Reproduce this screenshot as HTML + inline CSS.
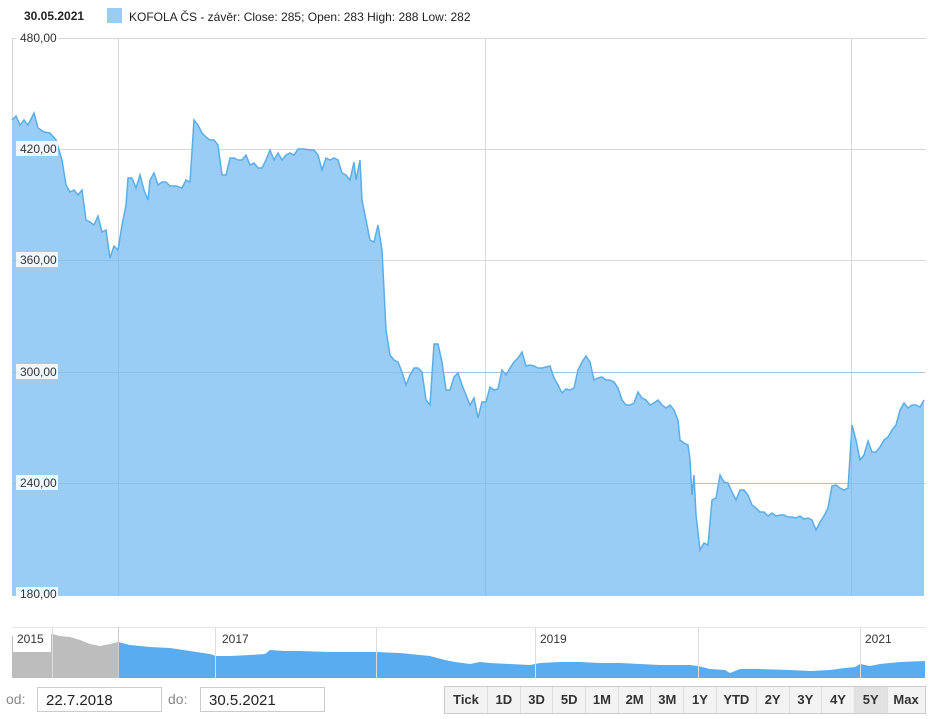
<!DOCTYPE html>
<html><head><meta charset="utf-8"><style>
body{margin:0;width:941px;height:719px;background:#fff;font-family:"Liberation Sans",sans-serif;position:relative;overflow:hidden}
.t{position:absolute;font-size:12px;color:#222}
.inp{position:absolute;top:687px;height:25px;border:1px solid #ccc;font-size:15px;line-height:25px;padding-left:8px;box-sizing:border-box;color:#222}
.btns{position:absolute;left:444px;top:686px;height:28px;display:flex;border:1px solid #ccc;box-sizing:border-box;background:#f3f3f3}
.btns div{font-size:13px;font-weight:bold;color:#333;text-align:center;line-height:26px;border-left:1px solid #ddd;width:31.7px}
</style></head><body>
<div class="t" style="left:24px;top:9px;font-weight:bold">30.05.2021</div>
<div style="position:absolute;left:107px;top:8px;width:15px;height:15px;background:#99cdf5"></div>
<div class="t" style="left:129px;top:10px">KOFOLA ČS - závěr: Close: 285; Open: 283 High: 288 Low: 282</div>
<svg width="941" height="719" style="position:absolute;left:0;top:0">
<defs>
<path id="s" d="M12,120 L16,116 L20,125 L24,120 L28,125 L34,113 L38,128 L44,132 L50,133 L56,140 L62,160 L66,185 L70,192 L74,190 L78,195 L82,190 L86,220 L90,222 L94,225 L98,216 L102,232 L106,230 L110,258 L114,246 L118,250 L122,225 L126,205 L128,178 L132,178 L136,188 L140,175 L144,190 L148,200 L150,180 L154,173 L158,185 L162,182 L166,182 L170,186 L176,186 L182,188 L186,180 L190,182 L194,120 L198,125 L202,133 L206,137 L210,140 L214,140 L218,145 L222,175 L226,175 L230,158 L234,158 L238,160 L242,160 L246,155 L250,165 L254,163 L258,168 L262,168 L266,160 L270,150 L274,160 L278,153 L282,160 L286,155 L290,153 L294,155 L298,149 L304,149 L310,150 L314,150 L318,155 L322,170 L326,158 L330,160 L334,158 L338,160 L342,173 L346,175 L350,180 L354,162 L356,180 L360,160 L362,200 L366,220 L370,240 L374,242 L378,225 L382,250 L386,330 L390,355 L394,360 L398,362 L402,372 L406,385 L410,375 L414,368 L418,368 L422,372 L426,400 L430,405 L434,344 L438,344 L442,362 L446,390 L450,390 L454,377 L458,373 L462,385 L466,395 L470,405 L474,398 L478,418 L482,402 L486,402 L490,387 L494,390 L498,389 L502,370 L506,375 L510,368 L514,362 L518,358 L522,352 L526,366 L530,365 L534,366 L538,368 L542,368 L546,367 L550,366 L554,378 L558,385 L562,393 L566,389 L570,390 L574,388 L578,370 L582,362 L586,356 L590,362 L594,380 L598,378 L602,377 L606,380 L610,380 L614,382 L618,388 L622,400 L626,405 L630,405 L634,403 L638,392 L642,398 L646,400 L650,405 L654,403 L658,400 L662,405 L666,408 L670,405 L674,410 L678,420 L680,440 L684,443 L688,445 L690,460 L692,495 L694,475 L696,515 L700,550 L704,543 L708,545 L712,500 L716,498 L720,475 L724,482 L728,483 L732,492 L736,500 L740,490 L744,490 L748,495 L752,505 L756,508 L760,512 L764,512 L768,516 L772,513 L776,516 L780,515 L784,515 L788,517 L792,517 L796,518 L800,516 L804,519 L808,518 L812,520 L816,530 L820,522 L824,516 L828,508 L832,486 L836,485 L840,488 L844,490 L848,488 L852,425 L856,440 L860,460 L864,455 L868,441 L872,452 L876,452 L880,447 L884,440 L888,437 L892,430 L896,425 L900,410 L904,403 L908,408 L912,405 L916,405 L920,407 L924,400"/>
<path id="nav" d="M12,636 L52,634 L60,636 L70,637 L80,640 L90,644 L100,646 L110,644 L118,642 L130,645 L150,647 L170,648 L190,651 L210,654 L216,656 L230,656 L250,655 L265,654 L270,650 L285,651 L300,651 L330,652 L360,652 L376,652 L400,653 L430,656 L445,660 L455,662 L470,664 L480,662 L490,663 L510,664 L530,665 L540,663 L560,662 L580,662 L600,663 L620,663 L640,664 L660,665 L690,665 L698,666 L710,669 L725,670 L730,673 L740,669 L760,669 L790,670 L810,671 L830,670 L845,668 L855,667 L860,664 L870,666 L880,664 L900,662 L925,661 L925,678 L12,678 Z"/>
<clipPath id="cl"><rect x="12" y="620" width="107" height="60"/></clipPath>
<clipPath id="cr"><rect x="119" y="620" width="810" height="60"/></clipPath>
</defs>
<g stroke="#d8d8d8" stroke-width="1">
<line x1="12" y1="38.5" x2="926" y2="38.5"/><line x1="12" y1="149.5" x2="926" y2="149.5"/><line x1="12" y1="260.5" x2="926" y2="260.5"/><line x1="12" y1="372.5" x2="926" y2="372.5"/><line x1="12" y1="483.5" x2="926" y2="483.5"/>
<line x1="118.5" y1="38" x2="118.5" y2="596"/><line x1="485.5" y1="38" x2="485.5" y2="596"/><line x1="851.5" y1="38" x2="851.5" y2="596"/>
<line x1="12.5" y1="38" x2="12.5" y2="596"/>
</g>
<path d="M12,120 L16,116 L20,125 L24,120 L28,125 L34,113 L38,128 L44,132 L50,133 L56,140 L62,160 L66,185 L70,192 L74,190 L78,195 L82,190 L86,220 L90,222 L94,225 L98,216 L102,232 L106,230 L110,258 L114,246 L118,250 L122,225 L126,205 L128,178 L132,178 L136,188 L140,175 L144,190 L148,200 L150,180 L154,173 L158,185 L162,182 L166,182 L170,186 L176,186 L182,188 L186,180 L190,182 L194,120 L198,125 L202,133 L206,137 L210,140 L214,140 L218,145 L222,175 L226,175 L230,158 L234,158 L238,160 L242,160 L246,155 L250,165 L254,163 L258,168 L262,168 L266,160 L270,150 L274,160 L278,153 L282,160 L286,155 L290,153 L294,155 L298,149 L304,149 L310,150 L314,150 L318,155 L322,170 L326,158 L330,160 L334,158 L338,160 L342,173 L346,175 L350,180 L354,162 L356,180 L360,160 L362,200 L366,220 L370,240 L374,242 L378,225 L382,250 L386,330 L390,355 L394,360 L398,362 L402,372 L406,385 L410,375 L414,368 L418,368 L422,372 L426,400 L430,405 L434,344 L438,344 L442,362 L446,390 L450,390 L454,377 L458,373 L462,385 L466,395 L470,405 L474,398 L478,418 L482,402 L486,402 L490,387 L494,390 L498,389 L502,370 L506,375 L510,368 L514,362 L518,358 L522,352 L526,366 L530,365 L534,366 L538,368 L542,368 L546,367 L550,366 L554,378 L558,385 L562,393 L566,389 L570,390 L574,388 L578,370 L582,362 L586,356 L590,362 L594,380 L598,378 L602,377 L606,380 L610,380 L614,382 L618,388 L622,400 L626,405 L630,405 L634,403 L638,392 L642,398 L646,400 L650,405 L654,403 L658,400 L662,405 L666,408 L670,405 L674,410 L678,420 L680,440 L684,443 L688,445 L690,460 L692,495 L694,475 L696,515 L700,550 L704,543 L708,545 L712,500 L716,498 L720,475 L724,482 L728,483 L732,492 L736,500 L740,490 L744,490 L748,495 L752,505 L756,508 L760,512 L764,512 L768,516 L772,513 L776,516 L780,515 L784,515 L788,517 L792,517 L796,518 L800,516 L804,519 L808,518 L812,520 L816,530 L820,522 L824,516 L828,508 L832,486 L836,485 L840,488 L844,490 L848,488 L852,425 L856,440 L860,460 L864,455 L868,441 L872,452 L876,452 L880,447 L884,440 L888,437 L892,430 L896,425 L900,410 L904,403 L908,408 L912,405 L916,405 L920,407 L924,400 L924,596 L12,596 Z" fill="#99cdf5"/>
<use href="#s" fill="none" stroke="#5aaee8" stroke-width="1.5"/>
<g stroke="#80b8e0" stroke-width="1" opacity="0.6">
<line x1="118.5" y1="250" x2="118.5" y2="596"/><line x1="485.5" y1="402" x2="485.5" y2="596"/><line x1="851.5" y1="430" x2="851.5" y2="596"/>
<line x1="12" y1="483.5" x2="924" y2="483.5"/><line x1="12" y1="372.5" x2="924" y2="372.5"/><line x1="12" y1="260.5" x2="380" y2="260.5"/>
</g>
<g font-size="12" fill="#333" font-family="Liberation Sans,sans-serif">
<rect x="16" y="30" width="42" height="15" fill="#fff" opacity="0.85"/><text x="20" y="42">480,00</text>
<rect x="16" y="141" width="42" height="15" fill="#fff" opacity="0.85"/><text x="20" y="153">420,00</text>
<rect x="16" y="252" width="42" height="15" fill="#fff" opacity="0.85"/><text x="20" y="264">360,00</text>
<rect x="16" y="364" width="42" height="15" fill="#fff" opacity="0.85"/><text x="20" y="376">300,00</text>
<rect x="16" y="475" width="42" height="15" fill="#fff" opacity="0.85"/><text x="20" y="487">240,00</text>
<rect x="16" y="587" width="42" height="15" fill="#fff" opacity="0.85"/><text x="20" y="598">180,00</text>
</g>
<line x1="12" y1="627.5" x2="926" y2="627.5" stroke="#e5e5e5"/>
<use href="#nav" fill="#5aacf0" clip-path="url(#cr)"/>
<use href="#nav" fill="#bdbdbd" clip-path="url(#cl)"/>
<line x1="118.5" y1="627" x2="118.5" y2="678" stroke="#ccc"/>
<g stroke="#ddd"><line x1="52.5" y1="627" x2="52.5" y2="678"/><line x1="215.5" y1="627" x2="215.5" y2="678"/><line x1="376.5" y1="627" x2="376.5" y2="678"/><line x1="535.5" y1="627" x2="535.5" y2="678"/><line x1="698.5" y1="627" x2="698.5" y2="678"/><line x1="860.5" y1="627" x2="860.5" y2="678"/></g>
<g font-size="12" fill="#333" font-family="Liberation Sans,sans-serif">
<rect x="13" y="630" width="38" height="22" fill="#fff"/><text x="17" y="643">2015</text>
<rect x="217" y="630" width="38" height="22" fill="#fff" opacity="0.85"/><text x="222" y="643">2017</text>
<text x="540" y="643">2019</text>
<text x="865" y="643">2021</text>
</g>
</svg>
<div class="t" style="left:6px;top:691px;font-size:14px;color:#888">od:</div>
<div class="inp" style="left:37px;width:125px">22.7.2018</div>
<div class="t" style="left:168px;top:691px;font-size:14px;color:#888">do:</div>
<div class="inp" style="left:200px;width:125px">30.5.2021</div>
<div class="btns">
<div style="width:42px;border-left:none">Tick</div><div>1D</div><div>3D</div><div>5D</div><div>1M</div><div>2M</div><div>3M</div><div>1Y</div><div style="width:39px">YTD</div><div>2Y</div><div>3Y</div><div>4Y</div><div style="background:#e2e2e2">5Y</div><div style="width:37px">Max</div>
</div>
</body></html>
